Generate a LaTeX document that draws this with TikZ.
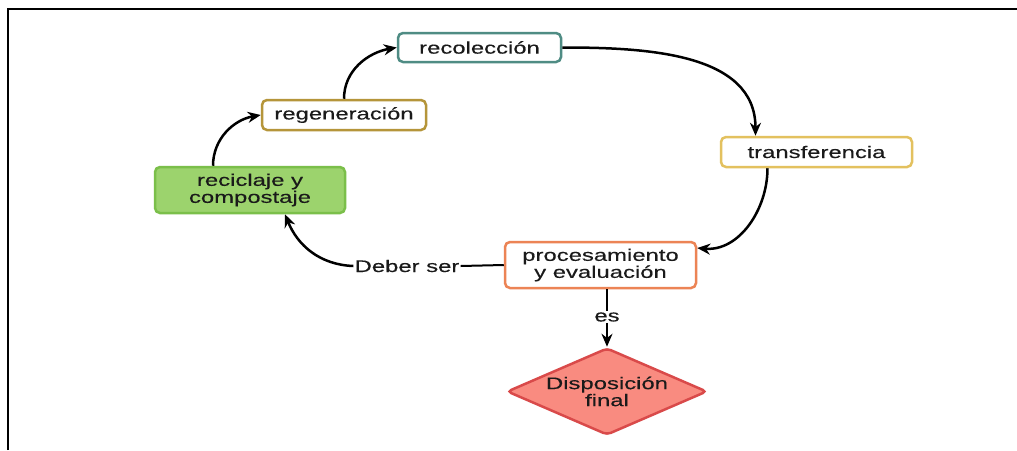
\documentclass[tikz,border=0pt]{standalone}
\usepackage{fontspec}
\setmainfont[FakeStretch=1.42,FakeBold=0.3]{Liberation Sans}
\usetikzlibrary{arrows.meta,shapes.geometric,calc}
\definecolor{txt}{HTML}{1A1A1A}
\definecolor{teal1}{HTML}{4F8C84}
\definecolor{gold1}{HTML}{B5953A}
\definecolor{green1}{HTML}{9CD36D}
\definecolor{green2}{HTML}{7BBF4A}
\definecolor{yell1}{HTML}{E3C15F}
\definecolor{orng1}{HTML}{EC8455}
\definecolor{salm1}{HTML}{F98B80}
\definecolor{red1}{HTML}{D94A4A}
\begin{document}
\begin{tikzpicture}[x=1pt,y=-1pt,
  font=\fontsize{16.8}{17}\selectfont,
  box/.style={draw, line width=2.5pt, rounded corners=5pt, fill=white, text=txt,
    align=center, inner sep=0pt},
  conn/.style={line width=2.5pt, -{Stealth[length=13pt,width=11pt]}},
  lbl/.style={fill=white, text=txt, inner sep=1pt}]
\useasboundingbox (0,0) rectangle (1017,450);
\fill[white] (0,0) rectangle (1017,450);
\draw[line width=2.2pt] (8,450) -- (8,9) -- (1017,9);

\node[box, draw=teal1, minimum width=163pt, minimum height=29pt] (rec) at (479.5,47.5) {recolección};
\node[box, draw=gold1, minimum width=164pt, minimum height=30pt] (reg) at (344,115) {regeneración};
\node[box, draw=green2, fill=green1, minimum width=190pt, minimum height=46pt] (rc) at (250,190) {reciclaje y\\compostaje};
\node[box, draw=yell1, minimum width=191pt, minimum height=30pt] (tr) at (816.5,152) {transferencia};
\node[box, draw=orng1, minimum width=191pt, minimum height=46pt] (pr) at (600.5,265) {procesamiento\\y evaluación};
\node[diamond, aspect=2.3, draw=red1, fill=salm1, line width=2.5pt, rounded corners=4pt,
  minimum width=200pt, minimum height=87pt, inner sep=0pt, align=center, text=txt] (df) at (607,391.5) {Disposición\\final};

\draw[conn] ([xshift=-37pt]rc.north) to[out=90,in=190] (reg.west);
\draw[conn] (reg.north) to[out=90,in=190] (rec.west);
\draw[conn] (rec.east) to[out=0,in=90] ([xshift=-61pt]tr.north);
\draw[conn] ([xshift=-49pt]tr.south) to[out=270,in=-5] ([yshift=17pt]pr.east);

\node[lbl] (ds) at (407,266) {Deber ser};
\draw[line width=2pt] (pr.west) -- (ds.east);
\draw[conn] (ds.west) to[out=178,in=-68] ([xshift=35pt]rc.south);

\node[lbl] (es) at (607,317) {es};
\draw[line width=2.5pt] (pr.south -| df.north) -- (es.north);
\draw[conn] (es.south) -- (df.north);
\end{tikzpicture}
\end{document}
